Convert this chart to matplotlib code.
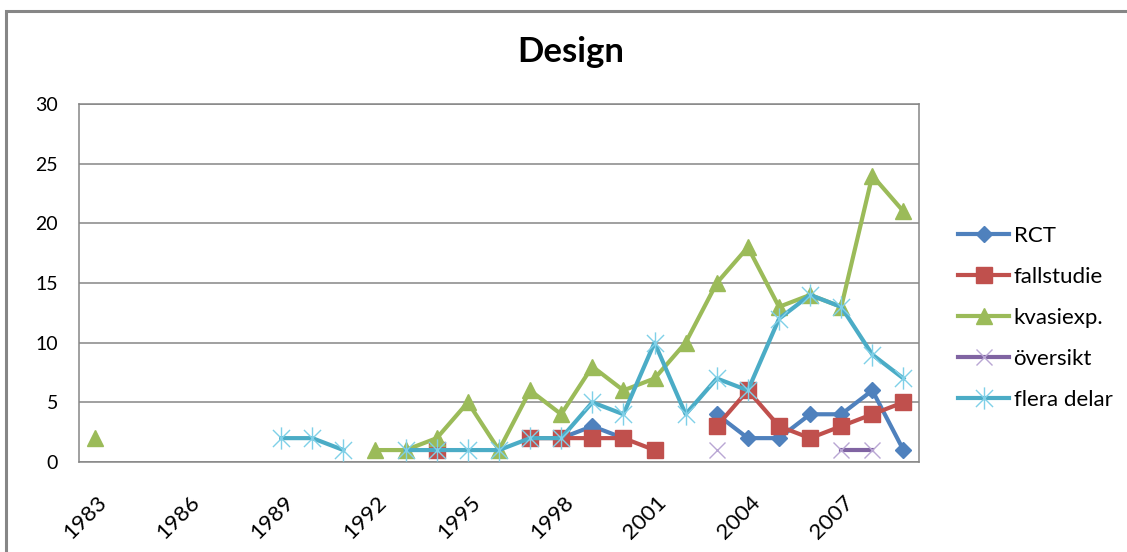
import numpy as np
import matplotlib
matplotlib.use("Agg")
import matplotlib.pyplot as plt
from matplotlib.path import Path
from matplotlib.patches import Rectangle
import matplotlib.transforms as mtransforms

nan = np.nan
years = list(range(1983, 2010))
tick_years = [1983, 1986, 1989, 1992, 1995, 1998, 2001, 2004, 2007]

def series(d):
    return [d.get(y, nan) for y in years]

rct = series({1998: 2, 1999: 3, 2000: 2, 2003: 4, 2004: 2, 2005: 2, 2006: 4,
              2007: 4, 2008: 6, 2009: 1})
fallstudie = series({1994: 1, 1997: 2, 1998: 2, 1999: 2, 2000: 2, 2001: 1,
                     2003: 3, 2004: 6, 2005: 3, 2006: 2, 2007: 3, 2008: 4, 2009: 5})
kvasiexp = series({1983: 2, 1992: 1, 1993: 1, 1994: 2, 1995: 5, 1996: 1, 1997: 6,
                   1998: 4, 1999: 8, 2000: 6, 2001: 7, 2002: 10, 2003: 15, 2004: 18,
                   2005: 13, 2006: 14, 2007: 13, 2008: 24, 2009: 21})
oversikt = series({2003: 1, 2007: 1, 2008: 1})
flera = series({1989: 2, 1990: 2, 1991: 1, 1993: 1, 1994: 1, 1995: 1, 1996: 1,
                1997: 2, 1998: 2, 1999: 5, 2000: 4, 2001: 10, 2002: 4, 2003: 7,
                2004: 6, 2005: 12, 2006: 14, 2007: 13, 2008: 9, 2009: 7})

plt.rcParams['font.family'] = ['Lato', 'DejaVu Sans']

fig = plt.figure(figsize=(11.27, 5.52), dpi=100)
fig.patches.append(Rectangle((6/1127, -0.1), 1.2, (552-11)/552 + 0.1,
                             transform=fig.transFigure, fill=False,
                             edgecolor='#868686', linewidth=2.2, zorder=0))
ax = fig.add_axes([79/1127, 90/552, 840/1127, 358/552])

x = np.arange(len(years))

asterisk = Path([(-1, -1), (1, 1), (-1, 1), (1, -1), (0, -1.3), (0, 1.3)],
                [Path.MOVETO, Path.LINETO, Path.MOVETO, Path.LINETO, Path.MOVETO, Path.LINETO])

lw = 3.0
ax.plot(x, rct, color='#4F81BD', lw=lw, marker='D', ms=8.5, label='RCT', zorder=3)
ax.plot(x, fallstudie, color='#C0504D', lw=lw, marker='s', ms=11, label='fallstudie', zorder=3)
ax.plot(x, kvasiexp, color='#9BBB59', lw=lw, marker='^', ms=11.5, label='kvasiexp.', zorder=3)
ax.plot(x, oversikt, color='#8064A2', lw=lw, marker='x', ms=12, mew=1.0,
        mec='#B9A6D4', label='översikt', zorder=3)
ax.plot(x, flera, color='#4BACC6', lw=lw, marker=asterisk, ms=16, mew=1.0,
        mec='#7FD0E8', mfc='none', label='flera delar', zorder=4)

ax.set_xlim(-0.5, len(years) - 0.5)
ax.set_ylim(0, 30)
ax.set_yticks(range(0, 31, 5))
ax.set_xticks([years.index(y) for y in tick_years])
ax.set_xticklabels([str(y) for y in tick_years], rotation=45, ha='right',
                   rotation_mode='anchor')
ax.tick_params(axis='y', labelsize=14, length=0, pad=15)
ax.tick_params(axis='x', labelsize=16, length=0, pad=22)
offset = mtransforms.ScaledTranslation(2/100, 0, fig.dpi_scale_trans)
for lab in ax.get_xticklabels():
    lab.set_transform(lab.get_transform() + offset)
ax.grid(axis='y', color='#868686', lw=1.1)
ax.set_axisbelow(True)
for s in ax.spines.values():
    s.set_color('#868686')
    s.set_linewidth(1.1)

fig.text(571/1127, 1 - 52/552, 'Design', ha='center', va='center',
         fontsize=25, fontweight='bold')

leg = fig.legend(loc='center left', bbox_to_anchor=(938/1127, 1 - 318/552),
                 frameon=False, fontsize=16, handlelength=2.3, labelspacing=0.95,
                 handletextpad=0.2)

fig.savefig('out.png', dpi=100)
